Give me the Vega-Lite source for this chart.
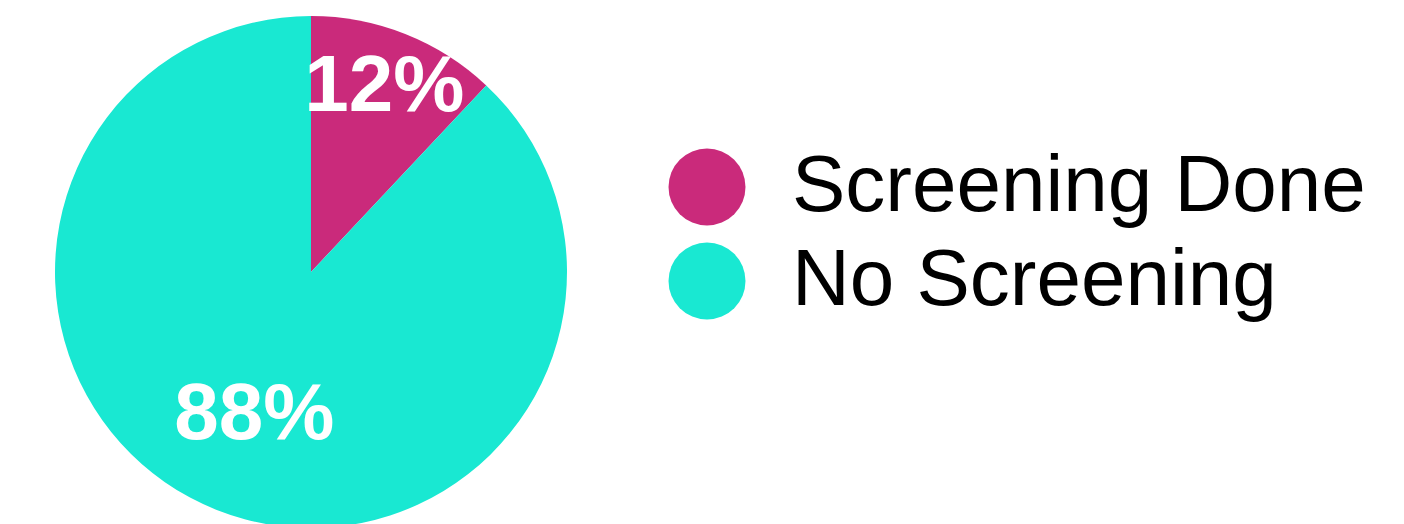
{
  "$schema": "https://vega.github.io/schema/vega-lite/v6.json",
  "width": 622,
  "height": 544,
  "padding": 0,
  "autosize": {"type": "pad"},
  "background": "white",
  "config": {"view": {"stroke": null}, "font": "Liberation Sans"},
  "data": {"values": [
    {"status": "Screening Done", "pct": 12, "label": "12%"},
    {"status": "No Screening", "pct": 88, "label": "88%"}
  ]},
  "encoding": {
    "theta": {"field": "pct", "type": "quantitative", "stack": true},
    "order": {"field": "pct", "type": "quantitative", "sort": "ascending"}
  },
  "layer": [
    {
      "mark": {"type": "arc", "outerRadius": 256, "stroke": null},
      "encoding": {
        "color": {
          "field": "status", "type": "nominal",
          "sort": ["Screening Done", "No Screening"],
          "scale": {"domain": ["Screening Done", "No Screening"], "range": ["#CA2A7B", "#19E8D2"]},
          "legend": {
            "title": null, "orient": "none", "legendX": 667, "legendY": 147,
            "symbolType": "circle", "symbolSize": 5929, "symbolStrokeWidth": 0,
            "labelFontSize": 80, "labelFont": "Liberation Sans", "labelColor": "#000000",
            "labelOffset": 45, "rowPadding": 14, "labelLimit": 800,
            "encode": {"labels": {"update": {"dy": {"value": 5}}}}
          }
        }
      }
    },
    {
      "mark": {"type": "text", "radius": {"expr": "datum.pct < 50 ? 199 : 154"}, "fontSize": 80, "fontWeight": "bold", "color": "white", "font": "Liberation Sans"},
      "encoding": {"text": {"field": "label"}}
    }
  ]
}
